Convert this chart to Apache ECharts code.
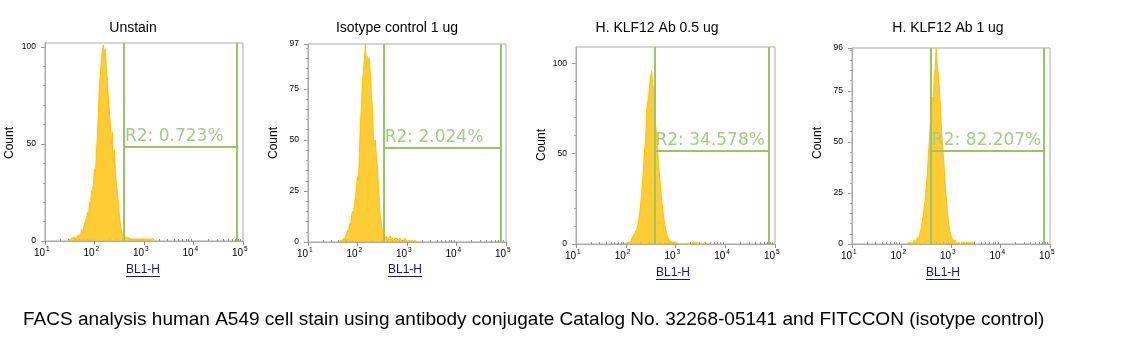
<!DOCTYPE html>
<html>
<head>
<meta charset="utf-8">
<script src="https://cdn.jsdelivr.net/npm/echarts@6/dist/echarts.min.js"></script>
<style>
html,body{margin:0;padding:0;background:#fff;}
#chart{width:1143px;height:349px;}
</style>
</head>
<body>
<div id="chart"></div>
<script>
// ---------- DATA ----------
const titles = ['Unstain', 'Isotype control 1 ug', 'H. KLF12 Ab 0.5 ug', 'H. KLF12 Ab 1 ug'];
const xLabel = 'BL1-H';
const yLabel = 'Count';
const caption = 'FACS analysis human A549 cell stain using antibody conjugate Catalog No. 32268-05141 and FITCCON (isotype control)';

// histogram bins: log10 channel start and step
const binStep = 0.02;
const binStart1 = 1.46;
const counts1 = [0,1,0,1,1,0,2,1,2,1,3,2,4,3,6,4,7,9,8,12,15,13,20,18,26,24,31,37,34,46,55,68,80,86,93,98,101,95,99,88,82,74,67,60,50,56,40,47,36,30,25,20,14,9,6,4,3,2,3,1,2,1,2,1,1,2,1,1,0,1,1,0,1,1,0,1,1,0,1,1,0,1,1,0,1,1,0,1,0];
const binStart2 = 1.64;
const counts2 = [0,1,0,1,2,1,3,4,6,5,9,8,13,15,14,19,22,27,32,30,44,58,66,78,84,90,97,86,91,89,90,82,73,66,52,47,50,42,38,28,20,13,9,6,4,3,2,3,2,1,2,3,1,2,2,1,2,1,2,1,1,2,1,1,0,1,2,1,1,0,1,1,0,1,1,0,1,0,0];
const binStart3 = 1.98;
const counts3 = [0,1,0,1,1,2,1,3,2,4,6,5,8,10,13,17,22,28,35,44,52,58,74,78,81,88,93,96,89,86,80,66,60,54,43,38,31,25,20,15,11,8,6,4,3,2,3,2,1,2,1,1,2,1,0,1,1,0,1,1,0,1,1,0,1,1,0,1,0,1,1,0,1,0,1,0,1,0,0,1,0,1,0,0];
const binStart4 = 2.12;
const counts4 = [0,1,0,1,1,0,1,2,1,2,3,2,4,6,8,11,14,18,22,28,34,42,50,58,66,72,70,80,86,96,88,84,78,70,60,52,45,38,30,24,18,13,9,6,4,3,2,1,2,1,1,0,1,1,0,1,0,1,1,0,1,0,1,0,1,0,1,0];

const yMax = [102, 97, 109, 96];
const yTicks = [[0, 50, 100], [0, 25, 50, 75, 97], [0, 50, 100], [0, 25, 50, 75, 96]];
const gateLow = [394, 339, 378, 392];
const gateHigh = [75900, 78200, 73800, 75300];
const gateLevel = [48.5, 46, 51.6, 45.5];
const gateText = ['R2: 0.723%', 'R2: 2.024%', 'R2: 34.578%', 'R2: 82.207%'];

// ---------- LAYOUT ----------
const grids = [
  {left: 45, top: 43, width: 198, height: 198},
  {left: 308, top: 44, width: 198, height: 198},
  {left: 576, top: 47, width: 199, height: 197},
  {left: 852, top: 48, width: 198, height: 196}
];
const titleX = [133, 397, 657, 948];
const countPos = [[10, 143], [273.5, 143], [542, 145], [818, 143]];
const xNamePos = [[143, 270], [405, 270], [673, 273], [943, 273]];
const yMinorStep = [10, 5, 10, 5];

const binStarts = [binStart1, binStart2, binStart3, binStart4];
const countsAll = [counts1, counts2, counts3, counts4];

const minorX = [];
for (let d = 1; d < 5; d++) for (let k = 2; k <= 9; k++) minorX.push(k * Math.pow(10, d));

const FONT = 'Liberation Sans';
const histColor = '#FFC000';
const gateColor = '#99C565';
const gateTextColor = '#A3CC84';

const option = {
  animation: false,
  backgroundColor: '#fff',
  title: titles.map((t, i) => ({
    text: t, left: titleX[i], top: 21, textAlign: 'center', padding: 0,
    textStyle: {fontFamily: FONT, fontSize: 14, fontWeight: 'normal', color: '#000'}
  })),
  grid: grids.map(g => Object.assign({show: true, borderColor: '#ababab', borderWidth: 1, backgroundColor: '#fff'}, g)),
  xAxis: [],
  yAxis: [],
  series: [],
  graphic: []
};

for (let i = 0; i < 4; i++) {
  option.xAxis.push({
    type: 'log', logBase: 10, min: 10, max: 100000, gridIndex: i,
    axisLine: {show: true, lineStyle: {color: '#a8a8a8', width: 1}},
    axisTick: {show: true, length: 4, lineStyle: {color: '#909090'}},
    splitLine: {show: false},
    axisLabel: {
      margin: 5,
      formatter: v => '{b|10}{s|' + Math.round(Math.log10(v)) + '}',
      rich: {
        b: {fontFamily: FONT, fontSize: 10, lineHeight: 14, color: '#000'},
        s: {fontFamily: FONT, fontSize: 6.5, lineHeight: 7, verticalAlign: 'top', color: '#000', padding: [0, 6.5, 0, 1]}
      }
    }
  });
  option.xAxis.push({
    type: 'log', logBase: 10, min: 10, max: 100000, gridIndex: i,
    axisLine: {show: false},
    axisTick: {show: true, length: 2, customValues: minorX, lineStyle: {color: '#909090'}},
    axisLabel: {show: false},
    splitLine: {show: false}
  });
  const minorY = [];
  for (let v = 0; v <= yMax[i]; v += yMinorStep[i]) minorY.push(v);
  option.yAxis.push({
    type: 'value', min: 0, max: yMax[i], gridIndex: i,
    axisLine: {show: true, lineStyle: {color: '#a8a8a8'}},
    axisTick: {show: true, length: 4, customValues: yTicks[i], lineStyle: {color: '#909090'}},
    axisLabel: {customValues: yTicks[i], margin: 9, fontFamily: FONT, fontSize: 8.5, color: '#000'},
    splitLine: {show: false}
  });
  option.yAxis.push({
    type: 'value', min: 0, max: yMax[i], gridIndex: i, position: 'left',
    axisLine: {show: false},
    axisTick: {show: true, length: 2, customValues: minorY, lineStyle: {color: '#a0a0a0'}},
    axisLabel: {show: false},
    splitLine: {show: false}
  });

  const data = countsAll[i].map((c, k) => [Math.pow(10, binStarts[i] + k * binStep), c]);
  option.series.push({
    type: 'line', xAxisIndex: 2 * i, yAxisIndex: 2 * i, data: data,
    showSymbol: false, symbol: 'none',
    lineStyle: {color: histColor, width: 1},
    areaStyle: {color: histColor, opacity: 0.8},
    markLine: {
      silent: true, symbol: ['none', 'none'], animation: false,
      lineStyle: {color: gateColor, width: 2, type: 'solid'},
      label: {show: false},
      emphasis: {disabled: true},
      data: [
        {xAxis: gateLow[i]},
        {xAxis: gateHigh[i]},
        [
          {coord: [gateLow[i], gateLevel[i]],
           label: {show: true, position: 'insideStartTop', formatter: gateText[i], color: gateTextColor,
                   fontFamily: 'DejaVu Sans', fontSize: 17, distance: [1, 2]}},
          {coord: [gateHigh[i], gateLevel[i]]}
        ]
      ]
    }
  });

  option.graphic.push({
    type: 'text', x: countPos[i][0], y: countPos[i][1], rotation: Math.PI / 2,
    style: {text: yLabel, font: '12px "Liberation Sans"', fill: '#000', align: 'center', verticalAlign: 'middle'}
  });
  option.graphic.push({
    type: 'text', x: xNamePos[i][0], y: xNamePos[i][1],
    style: {text: xLabel, font: '12px "Liberation Sans"', fill: '#16167a', align: 'center', verticalAlign: 'middle'}
  });
  option.graphic.push({
    type: 'line', shape: {x1: xNamePos[i][0] - 17, y1: xNamePos[i][1] + 6.5, x2: xNamePos[i][0] + 17, y2: xNamePos[i][1] + 6.5},
    style: {stroke: '#16167a', lineWidth: 1}
  });
}
option.graphic.push({
  type: 'text', x: 23, y: 320,
  style: {text: caption, font: '19px "Liberation Sans"', fill: '#000', align: 'left', verticalAlign: 'middle'}
});

const chart = echarts.init(document.getElementById('chart'), null, {renderer: 'canvas'});
chart.setOption(option);
</script>
</body>
</html>
